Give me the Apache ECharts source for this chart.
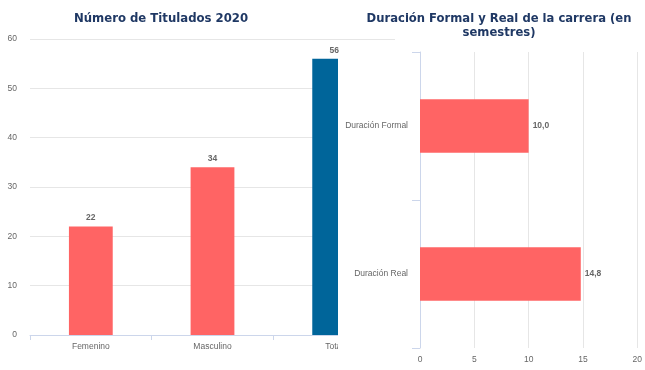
<!DOCTYPE html>
<html><head><meta charset="utf-8">
<script src="https://cdn.jsdelivr.net/npm/echarts@6/dist/echarts.min.js"></script>
<style>html,body{margin:0;padding:0;background:#fff}#c{width:645px;height:370px}</style>
</head><body><div id="c"></div>
<script>
const leftTitle = 'Número de Titulados 2020';
const rightTitle = 'Duración Formal y Real de la carrera (en\nsemestres)';
const genderCats = ['Femenino', 'Masculino', 'Total'];
const genderVals = [22, 34, 56];
const durCats = ['Duración Formal', 'Duración Real'];
const durVals = [10.0, 14.8];

const RED = '#FF6464', BLUE = '#00659A', AX = '#ccd6eb', GRID = '#e6e6e6';
const FONT = 'Liberation Sans, Arial, sans-serif';
const chart = echarts.init(document.getElementById('c'), null, {renderer: 'canvas'});
chart.setOption({
  animation: false,
  backgroundColor: '#fff',
  title: [
    {text: leftTitle, left: 156, top: 8, textAlign: 'center',
     textStyle: {fontFamily: 'DejaVu Sans', fontWeight: 'bold', fontSize: 11.7, color: '#1F3864'}},
    {text: rightTitle, left: 494, top: 7, textAlign: 'center',
     textStyle: {fontFamily: 'DejaVu Sans', fontWeight: 'bold', fontSize: 11.6, color: '#1F3864', lineHeight: 14}}
  ],
  graphic: [{type: 'rect', shape: {x: 338, y: 57, width: 307, height: 313}, style: {fill: '#fff'}, z: 5}],
  grid: [
    {left: 30, right: 250, top: 39, bottom: 35},
    {left: 420, right: 7, top: 52, bottom: 22}
  ],
  xAxis: [
    {type: 'category', gridIndex: 0, data: genderCats,
     axisLine: {show: true, lineStyle: {color: AX}},
     axisTick: {show: true, alignWithLabel: false, length: 5, lineStyle: {color: AX}},
     axisLabel: {color: '#666', fontSize: 8.5, fontFamily: FONT, margin: 7}},
    {type: 'value', gridIndex: 1, min: 0, max: 20, interval: 5, z: 10,
     axisLine: {show: false}, axisTick: {show: false},
     splitLine: {lineStyle: {color: GRID}},
     axisLabel: {color: '#666', fontSize: 8.5, fontFamily: FONT, margin: 7}}
  ],
  yAxis: [
    {type: 'value', gridIndex: 0, min: 0, max: 60, interval: 10,
     axisLine: {show: false}, axisTick: {show: false},
     splitLine: {lineStyle: {color: GRID}},
     axisLabel: {color: '#666', fontSize: 8.5, fontFamily: FONT, margin: 13}},
    {type: 'category', gridIndex: 1, data: durCats, inverse: true, z: 10,
     axisLine: {show: true, lineStyle: {color: AX}},
     axisTick: {show: true, alignWithLabel: false, length: 8, lineStyle: {color: AX}},
     axisLabel: {color: '#666', fontSize: 8.5, fontFamily: FONT, margin: 12}}
  ],
  series: [
    {type: 'bar', xAxisIndex: 0, yAxisIndex: 0, barWidth: '36%',
     data: genderVals.map((v, i) => ({value: v, itemStyle: {color: i === 2 ? BLUE : RED}})),
     label: {show: true, position: 'top', distance: 4, color: '#666', fontSize: 8.5, fontWeight: 'bold', fontFamily: FONT}},
    {type: 'bar', xAxisIndex: 1, yAxisIndex: 1, barWidth: '36%', z: 10,
     itemStyle: {color: RED},
     data: durVals,
     label: {show: true, position: 'right', distance: 4, color: '#666', fontSize: 8.5, fontWeight: 'bold', fontFamily: FONT,
             formatter: p => p.value.toFixed(1).replace('.', ',')}}
  ]
});
</script></body></html>
